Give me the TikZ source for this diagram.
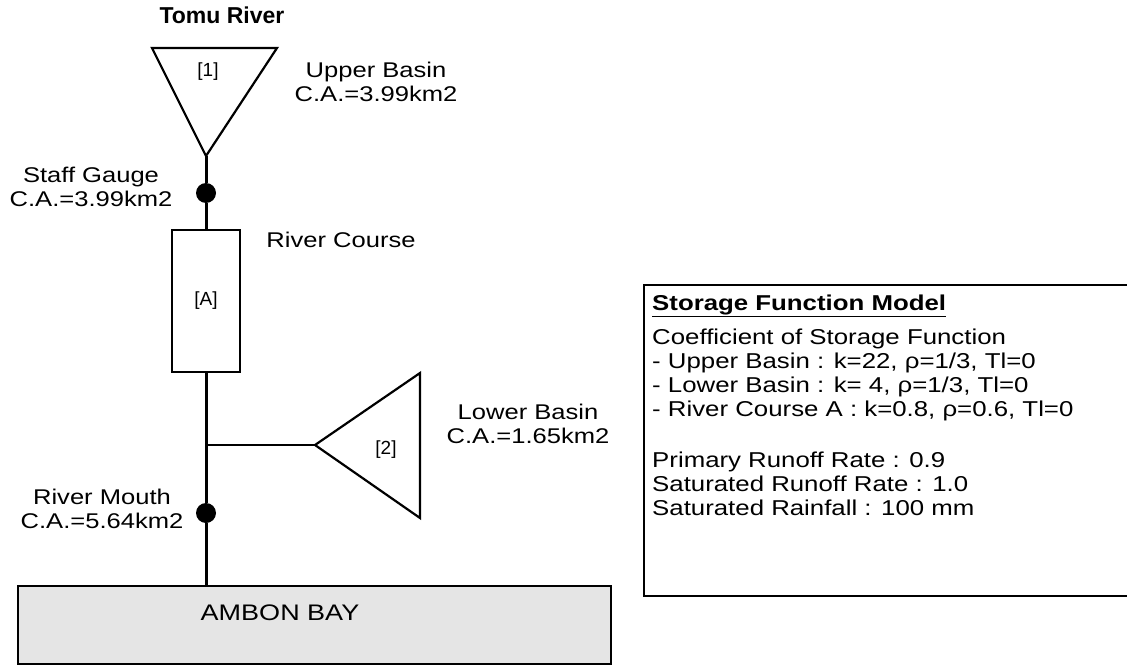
\documentclass[tikz,border=0pt]{standalone}
\usepackage{fontspec}
\setmainfont{Liberation Sans}
\newfontfamily\widefont[FakeStretch=1.2]{Liberation Sans}
\usepackage{tikz}
\usetikzlibrary{arrows.meta, positioning, calc}

\begin{document}
\begin{tikzpicture}[
    x=1pt, y=-1pt,
    river/.style={line width=3pt},
    branch/.style={line width=1.6pt},
    basin/.style={line width=2.2pt, line join=miter},
    gauge/.style={circle, fill=black, minimum size=20pt, inner sep=0pt},
    reach/.style={draw, line width=2.2pt, minimum width=68pt, minimum height=142pt,
                  font=\fontsize{19}{19}\selectfont},
    tag/.style={font=\fontsize{19}{19}\selectfont},
    lbl/.style={align=center, font=\widefont\fontsize{21.3}{24}\selectfont},
    bay/.style={draw, line width=1.8pt, fill=black!10, minimum width=593pt,
                minimum height=78pt},
    infobox/.style={draw, line width=1.5pt, minimum width=520pt, minimum height=311pt,
                    anchor=north west}
  ]
  \useasboundingbox (0,0) rectangle (1127,666);

  % Upper basin
  \node[font=\fontsize{23}{23}\selectfont\bfseries] (title) at (222,15) {Tomu River};
  \coordinate (ub tip) at (206,156);
  \draw[basin] (152,48) -- (277,48) -- (ub tip) -- cycle;
  \node[tag] (ub) at (208,72) {[1]};
  \node[lbl] (ub lbl) at (376,82) {Upper Basin\\C.A.=3.99km2};

  % Gauges and river course
  \node[gauge] (sg) at (206,193) {};
  \node[lbl] (sg lbl) at (91,187) {Staff Gauge\\C.A.=3.99km2};
  \node[reach] (rc) at (206,301) {[A]};
  \node[lbl] (rc lbl) at (341,240) {River Course};
  \node[gauge] (rm) at (206,513) {};
  \node[lbl] (rm lbl) at (102,509) {River Mouth\\C.A.=5.64km2};

  % Lower basin
  \coordinate (lb tip) at (315,445);
  \coordinate (jn) at (206,445);
  \draw[basin] (lb tip) -- (420,373) -- (420,518) -- cycle;
  \node[tag] (lb) at (386,450) {[2]};
  \node[lbl] (lb lbl) at (528,424) {Lower Basin\\C.A.=1.65km2};

  % Ambon Bay
  \node[bay] (bay) at (314.5,625) {};
  \node[lbl, font=\widefont\fontsize{22.5}{24}\selectfont] (bay lbl) at (280,613) {AMBON BAY};

  % Main stream
  \draw[river] (ub tip) -- (sg);
  \draw[river] (sg) -- (rc);
  \draw[river] (rc) -- (rm);
  \draw[river] (rm) -- (rm |- bay.north);
  \draw[branch] (jn) -- (lb tip);

  % Model parameters
  \node[infobox] (sfm) at (643,284) {};
  \node[anchor=north west, align=left, font=\widefont\fontsize{21.5}{24}\selectfont]
    (sfm text) at (648.7,291)
    {\underline{\textbf{Storage Function Model}}\\[10pt]
     Coefficient of Storage Function\\
     - Upper Basin : k=22, ρ=1/3, Tl=0\\
     - Lower Basin : k= 4, ρ=1/3, Tl=0\\
     - River Course A : k=0.8, ρ=0.6, Tl=0\\[27pt]
     Primary Runoff Rate : 0.9\\
     Saturated Runoff Rate : 1.0\\
     Saturated Rainfall : 100 mm};

\end{tikzpicture}
\end{document}
